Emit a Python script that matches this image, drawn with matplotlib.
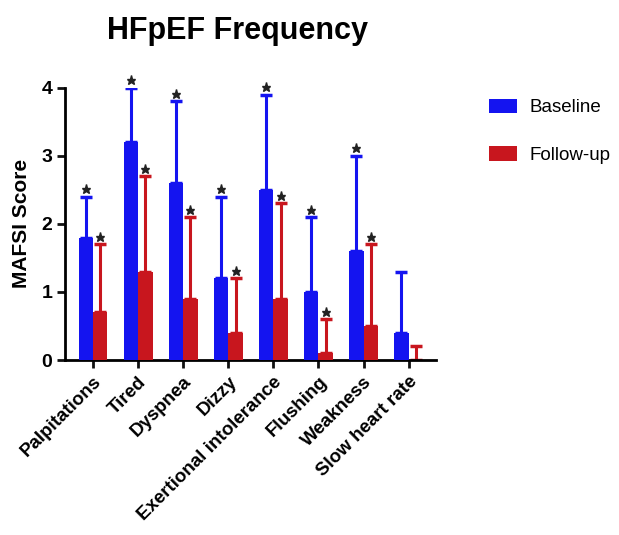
import matplotlib
matplotlib.use("Agg")
import matplotlib.pyplot as plt
import numpy as np

plt.rcParams['font.family'] = ['Liberation Sans', 'DejaVu Sans']

categories = ["Palpitations", "Tired", "Dyspnea", "Dizzy", "Exertional intolerance",
              "Flushing", "Weakness", "Slow heart rate"]
baseline = [1.8, 3.2, 2.6, 1.2, 2.5, 1.0, 1.6, 0.4]
baseline_err = [0.6, 0.8, 1.2, 1.2, 1.4, 1.1, 1.4, 0.9]
followup = [0.7, 1.3, 0.9, 0.4, 0.9, 0.1, 0.5, 0.0]
followup_err = [1.0, 1.4, 1.2, 0.8, 1.4, 0.5, 1.2, 0.2]
baseline_sig = [True, True, True, True, True, True, True, False]
followup_sig = [True, True, True, True, True, True, True, False]

blue = "#1414F0"
red = "#C8161E"

fig = plt.figure(figsize=(6.19, 5.35), dpi=100)
ax = fig.add_axes([0.105, 0.327, 0.599, 0.509])

x = np.arange(len(categories))
w = 0.32
xb = x - w / 2
xf = x + w / 2

ax.bar(xb, baseline, w, color=blue, label="Baseline", zorder=3)
ax.bar(xf, followup, w, color=red, label="Follow-up", zorder=3)
ax.errorbar(xb, baseline, yerr=[np.zeros(len(x)), baseline_err], fmt='none',
            ecolor=blue, elinewidth=2.2, capsize=4, capthick=2.5, zorder=2)
ax.errorbar(xf, followup, yerr=[np.zeros(len(x)), followup_err], fmt='none',
            ecolor=red, elinewidth=2.2, capsize=4, capthick=2.5, zorder=2)

for i in range(len(x)):
    if baseline_sig[i]:
        ax.plot(xb[i], baseline[i] + baseline_err[i] + 0.11, marker='*', color='#222222',
                markersize=6.5, clip_on=False, zorder=4)
    if followup_sig[i]:
        ax.plot(xf[i], followup[i] + followup_err[i] + 0.11, marker='*', color='#222222',
                markersize=6.5, clip_on=False, zorder=4)

ax.set_xlim(-0.62, 7.6)
ax.set_ylim(0, 4)
ax.set_yticks([0, 1, 2, 3, 4])
ax.set_yticklabels(["0", "1", "2", "3", "4"], fontsize=14, fontweight='bold')
ax.set_xticks(x)
ax.set_xticklabels(categories, rotation=45, ha='right', rotation_mode='anchor',
                   fontsize=13.5, fontweight='bold')
ax.tick_params(axis='both', direction='out', width=2, length=6, color='#111111')
ax.tick_params(axis='y', pad=3)
ax.spines['top'].set_visible(False)
ax.spines['right'].set_visible(False)
ax.spines['left'].set_linewidth(2)
ax.spines['bottom'].set_linewidth(2)
ax.set_ylabel("MAFSI Score", fontsize=15, fontweight='bold', labelpad=8)

fig.text(0.383, 0.942, "HFpEF Frequency", ha='center', va='center',
         fontsize=22, fontweight='bold')

fig.legend(loc='upper left', bbox_to_anchor=(0.762, 0.847), frameon=False,
           fontsize=13.5, handlelength=1.5, handleheight=0.8, labelspacing=1.6,
           handletextpad=0.7)

fig.savefig("out.png", dpi=100)
